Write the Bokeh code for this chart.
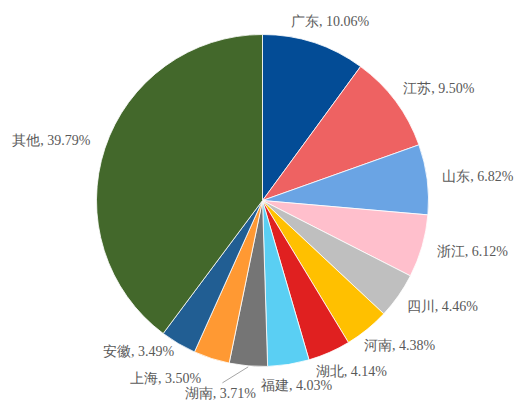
import math
from bokeh.plotting import figure
from bokeh.models import ColumnDataSource, LabelSet, Range1d
from bokeh.embed import file_html
from bokeh.resources import INLINE

# ---- data ----
provinces = ["广东", "江苏", "山东", "浙江", "四川", "河南", "湖北", "福建", "湖南", "上海", "安徽", "其他"]
shares = [10.06, 9.50, 6.82, 6.12, 4.46, 4.38, 4.14, 4.03, 3.71, 3.50, 3.49, 39.79]
colors = ["#034C96", "#EE6262", "#6AA4E4", "#FFBFCC", "#BFBFBF", "#FFC000",
          "#E02020", "#5ACFF3", "#757575", "#FF9933", "#215E93", "#43682B"]

# ---- layout (pixel units, pie centred at origin) ----
W, H = 525, 402
OFF = 0
cx_page, cy_page = 262, 200
R = 166
x_range = Range1d(OFF - cx_page, OFF + W - cx_page)
y_range = Range1d(cy_page - (OFF + H), cy_page - OFF)

# label nudges (dx, dy) in pixels relative to the computed outside-end position
nudges = [(2, 9), (7, 5), (6, 1), (7, -2), (7, -3), (4, -6), (4, -7), (1, -8),
          (-24, -15), (-32, -8), (-17, 3), (-11, 4)]
GAP, LW, LH = 6, 78, 14

total = sum(shares)
starts, ends, lx, ly, texts = [], [], [], [], []
cum = 0.0
for name, v, (dx, dy) in zip(provinces, shares, nudges):
    a0 = math.pi / 2 - 2 * math.pi * cum / total
    a1 = math.pi / 2 - 2 * math.pi * (cum + v) / total
    starts.append(a0)
    ends.append(a1)
    mid = 2 * math.pi * (cum + v / 2) / total
    s, c = math.sin(mid), math.cos(mid)
    px, py = (R + GAP) * s, (R + GAP) * c
    lx.append(px + LW / 2 * s + dx)
    ly.append(py + LH / 2 * c + dy)
    texts.append(f"{name}, {v:.2f}%")
    cum += v

src = ColumnDataSource(dict(start=starts, end=ends, color=colors))
lab = ColumnDataSource(dict(x=lx, y=ly, text=texts))

p = figure(width=W, height=H, x_range=x_range, y_range=y_range,
           output_backend="svg", toolbar_location=None, min_border=0)
p.axis.visible = False
p.grid.visible = False
p.outline_line_color = None
p.background_fill_color = "white"
p.border_fill_color = "white"

p.wedge(x=0, y=0, radius=R, start_angle="start", end_angle="end", direction="clock",
        fill_color="color", line_color="white", line_width=0.8, source=src)

# leader line for 湖南
i = provinces.index("湖南")
cum_i = sum(shares[:i])
mid_i = 2 * math.pi * (cum_i + shares[i] / 2) / total
p.line(x=[lx[i] + 2, (R + 1) * math.sin(mid_i)],
       y=[ly[i] + 11, (R + 1) * math.cos(mid_i)],
       line_color="#A6A6A6", line_width=1)

labels = LabelSet(x="x", y="y", text="text", source=lab, text_align="center",
                  text_baseline="middle", text_font_size="14px",
                  text_font="Liberation Serif", text_color="#595959")
p.add_layout(labels)

open("out.html", "w").write(file_html(p, INLINE))
